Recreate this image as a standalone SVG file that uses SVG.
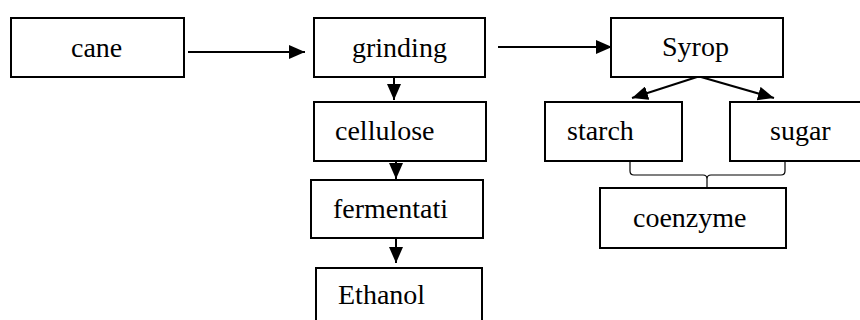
<svg xmlns="http://www.w3.org/2000/svg" width="860" height="320" viewBox="0 0 860 320">
<defs>
<style>
.box{fill:#fff;stroke:#000;stroke-width:2}
.lbl{font-family:"Liberation Serif","Times New Roman",serif;font-size:28px;fill:#000}
.ln{stroke:#000;stroke-width:2;fill:none}
.br{stroke:#000;stroke-width:1.2;fill:none}
</style>
<marker id="ah" markerUnits="userSpaceOnUse" markerWidth="16" markerHeight="14" refX="16" refY="7" orient="auto">
<path d="M0,0 L16,7 L0,14 Z" fill="#000"/>
</marker>
</defs>
<rect width="860" height="320" fill="#fff"/>
<g id="connectors">
<line class="ln" x1="188" y1="52" x2="305" y2="52" marker-end="url(#ah)"/>
<line class="ln" x1="498" y1="47" x2="612" y2="47" marker-end="url(#ah)"/>
<line class="ln" x1="394" y1="77" x2="394" y2="100" marker-end="url(#ah)"/>
<line class="ln" x1="396" y1="161" x2="396" y2="179" marker-end="url(#ah)"/>
<line class="ln" x1="396" y1="239" x2="396" y2="263" marker-end="url(#ah)"/>
<line class="ln" x1="697" y1="77" x2="632" y2="98" marker-end="url(#ah)"/>
<line class="ln" x1="701" y1="77" x2="774" y2="98" marker-end="url(#ah)"/>
<path class="br" d="M630,162 v9 q0,4 4,4 h69 q4,0 4,4 v9 M785,162 v9 q0,4 -4,4 h-70 q-4,0 -4,4"/>
</g>
<g id="cane"><rect class="box" x="11" y="18" width="173" height="59"/><text class="lbl" x="71" y="57">cane</text></g>
<g id="grinding"><rect class="box" x="314" y="18" width="171" height="59"/><text class="lbl" x="352" y="57">grinding</text></g>
<g id="syrop"><rect class="box" x="611" y="18" width="172" height="59"/><text class="lbl" x="662" y="56">Syrop</text></g>
<g id="cellulose"><rect class="box" x="314" y="102" width="172" height="59"/><text class="lbl" x="335" y="140">cellulose</text></g>
<g id="fermentati"><rect class="box" x="311" y="180" width="172" height="58"/><text class="lbl" x="333" y="218">fermentati</text></g>
<g id="ethanol"><rect class="box" x="316" y="268" width="166" height="60"/><text class="lbl" x="338" y="304">Ethanol</text></g>
<g id="starch"><rect class="box" x="545" y="102" width="137" height="59"/><text class="lbl" x="567" y="140">starch</text></g>
<g id="sugar"><rect class="box" x="730" y="102" width="140" height="59"/><text class="lbl" x="770" y="140">sugar</text></g>
<g id="coenzyme"><rect class="box" x="600" y="188" width="186" height="60"/><text class="lbl" x="633" y="227">coenzyme</text></g>
</svg>
